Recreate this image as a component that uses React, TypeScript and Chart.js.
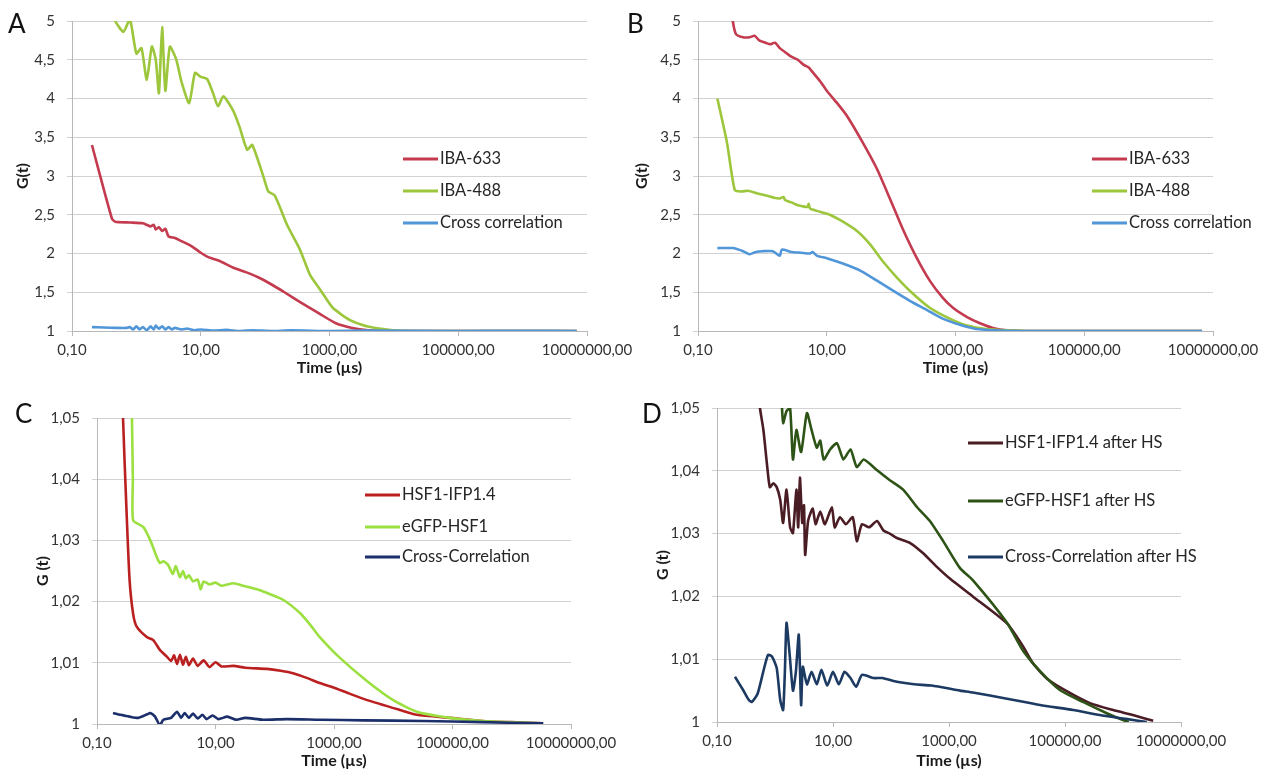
import React, { useEffect, useRef } from "react";
import { Chart, registerables } from "chart.js";

Chart.register(...registerables);

type Pt = [number, number]; // [time in µs, G(t)]

// ---------- tick values ----------
const X_TICKS = [0.1, 10, 1000, 100000, 10000000];
const Y_TICKS_AB = [1, 1.5, 2, 2.5, 3, 3.5, 4, 4.5, 5];
const Y_TICKS_CD = [1, 1.01, 1.02, 1.03, 1.04, 1.05];

// ---------- Panel A ----------
const A_IBA633: Pt[] = [[0.204,3.4],[0.417,2.45],[0.468,2.41],[0.794,2.4],[1.26,2.39],[1.45,2.37],[1.66,2.35],[1.86,2.37],[2.0,2.31],[2.24,2.34],[2.51,2.29],[2.82,2.32],[3.16,2.22],[3.98,2.2],[5.01,2.16],[6.31,2.12],[7.94,2.07],[10,2.01],[12.6,1.96],[15.8,1.93],[20,1.9],[31.6,1.82],[50.1,1.76],[79.4,1.69],[126,1.6],[200,1.5],[355,1.37],[708,1.22],[1259,1.1],[2239,1.04],[3981,1.01],[7943,1.0],[6.92e6,1.0]];
const A_IBA488: Pt[] = [[0.38,5.2],[0.468,5.0],[0.631,4.86],[0.794,5.02],[1,4.58],[1.2,4.65],[1.45,4.24],[1.74,4.67],[2.0,4.5],[2.24,4.07],[2.51,4.92],[2.82,4.1],[3.31,4.67],[4.17,4.5],[5.01,4.22],[6.61,3.94],[8.13,4.33],[10,4.28],[12.6,4.25],[15.5,4.07],[18.6,3.9],[22.4,4.03],[31.6,3.85],[39.8,3.64],[52.5,3.34],[63.1,3.4],[93.3,3.0],[112,2.8],[141,2.75],[219,2.37],[347,2.05],[501,1.72],[708,1.54],[1122,1.3],[2089,1.14],[3802,1.06],[9550,1.01],[25120,1.0],[6.92e6,1.0]];
const A_CROSS: Pt[] = [[0.204,1.05],[0.316,1.045],[0.501,1.04],[0.708,1.04],[0.794,1.05],[0.891,1.02],[1,1.06],[1.12,1.02],[1.26,1.05],[1.45,1.01],[1.66,1.06],[1.86,1.02],[2.0,1.07],[2.24,1.03],[2.51,1.06],[2.82,1.02],[3.16,1.05],[3.55,1.02],[3.98,1.04],[5.01,1.02],[6.31,1.03],[7.94,1.01],[10,1.02],[15.8,1.005],[25.1,1.015],[39.8,1.0],[63.1,1.01],[126,1.0],[251,1.008],[1000,1.0],[3981,1.005],[100000,1.0],[1e6,1.003],[6.92e6,1.0]];

// ---------- Panel B ----------
const B_IBA633: Pt[] = [[0.316,5.3],[0.347,5.0],[0.389,4.83],[0.501,4.79],[0.631,4.79],[0.759,4.81],[0.891,4.75],[1.12,4.72],[1.32,4.7],[1.58,4.72],[1.86,4.65],[2.24,4.6],[2.69,4.55],[3.16,4.52],[3.55,4.5],[4.47,4.43],[5.25,4.4],[6.17,4.33],[7.94,4.22],[10,4.1],[14.5,3.94],[20.4,3.78],[36.3,3.43],[60.3,3.09],[95.5,2.71],[151,2.32],[251,1.94],[398,1.65],[631,1.43],[912,1.3],[1514,1.18],[2399,1.1],[3802,1.04],[6310,1.01],[15850,1.0],[6.76e6,1.0]];
const B_IBA488: Pt[] = [[0.2,4.0],[0.282,3.43],[0.372,2.82],[0.468,2.8],[0.603,2.81],[0.794,2.78],[1,2.76],[1.26,2.74],[1.51,2.72],[1.86,2.71],[2.14,2.73],[2.24,2.69],[2.82,2.66],[3.39,2.63],[4.17,2.61],[5.01,2.6],[5.25,2.64],[5.5,2.58],[7.08,2.55],[11.2,2.5],[17.8,2.41],[29.5,2.29],[46.8,2.12],[74.1,1.9],[123,1.69],[219,1.48],[398,1.3],[813,1.16],[1514,1.07],[2818,1.03],[6310,1.01],[15850,1.0],[6.76e6,1.0]];
const B_CROSS: Pt[] = [[0.2,2.07],[0.347,2.07],[0.501,2.03],[0.631,1.99],[0.794,2.02],[1,2.03],[1.45,2.03],[1.86,1.97],[2.0,2.05],[2.82,2.02],[3.98,2.01],[5.5,2.0],[6.03,2.02],[7.08,1.97],[10,1.94],[17.8,1.87],[33.1,1.78],[60.3,1.65],[107,1.52],[195,1.39],[363,1.27],[631,1.16],[1175,1.08],[1995,1.03],[3981,1.01],[10000,1.0],[6.76e6,1.0]];

// ---------- Panel C ----------
const C_HSF1: Pt[] = [[0.263,1.06],[0.275,1.05],[0.316,1.0345],[0.355,1.0235],[0.407,1.018],[0.468,1.0159],[0.692,1.0142],[0.891,1.0137],[1.15,1.0121],[1.51,1.011],[1.78,1.0103],[2.0,1.0112],[2.24,1.0098],[2.51,1.0113],[2.82,1.0097],[3.16,1.011],[3.55,1.0096],[4.17,1.0107],[5.01,1.0095],[6.31,1.0104],[7.94,1.0093],[10,1.0101],[12.6,1.0094],[20,1.0095],[31.6,1.0092],[74.1,1.009],[126,1.0087],[204,1.0083],[355,1.0075],[575,1.0067],[955,1.006],[1778,1.005],[3631,1.0039],[12880,1.0023],[25120,1.0015],[91200,1.001],[323600,1.0005],[1e6,1.0003],[3.39e6,1.0001]];
const C_EGFP: Pt[] = [[0.372,1.06],[0.389,1.05],[0.403,1.04],[0.407,1.0333],[0.603,1.0322],[0.794,1.03],[1,1.0275],[1.15,1.0263],[1.32,1.0266],[1.58,1.026],[1.91,1.0245],[2.14,1.0258],[2.51,1.024],[2.82,1.025],[3.16,1.0238],[3.55,1.0243],[4.17,1.0233],[5.01,1.0236],[5.62,1.022],[6.31,1.0233],[7.94,1.0228],[10,1.0231],[12.6,1.0226],[20,1.023],[31.6,1.0225],[50.1,1.022],[74.1,1.0214],[138,1.0203],[269,1.0181],[398,1.0162],[575,1.0142],[1259,1.0108],[3631,1.007],[10000,1.0039],[25120,1.002],[91200,1.001],[323600,1.0005],[3.39e6,1.0001]];
const C_CROSS: Pt[] = [[0.186,1.0018],[0.251,1.0015],[0.355,1.0012],[0.501,1.001],[0.708,1.0016],[0.794,1.0018],[0.955,1.0012],[1.15,0.9998],[1.32,1.0007],[1.78,1.001],[2.24,1.002],[2.63,1.001],[3.02,1.0018],[3.55,1.001],[4.17,1.0017],[5.01,1.0009],[6.03,1.0015],[7.08,1.0008],[8.91,1.0014],[11.2,1.0008],[15.8,1.0012],[22.4,1.0007],[31.6,1.001],[63.1,1.0007],[158,1.0008],[575,1.0007],[3162,1.0006],[31620,1.0005],[316200,1.0003],[3.39e6,1.0001]];

// ---------- Panel D ----------
const D_HSF1: Pt[] = [[0.501,1.054],[0.55,1.05],[0.631,1.0465],[0.724,1.0412],[0.813,1.0374],[0.933,1.038],[1.07,1.0374],[1.23,1.0354],[1.38,1.0317],[1.58,1.037],[1.82,1.031],[2.04,1.0301],[2.34,1.037],[2.51,1.031],[2.69,1.0389],[2.95,1.0317],[3.16,1.0345],[3.31,1.0266],[3.72,1.032],[4.47,1.034],[5.01,1.0315],[6.03,1.0335],[7.24,1.0315],[9.55,1.0342],[10.7,1.031],[13.2,1.0326],[16.6,1.0315],[21.9,1.0326],[25.7,1.0288],[31.6,1.0315],[41.7,1.031],[57.5,1.032],[74.1,1.0305],[95.5,1.03],[126,1.0293],[214,1.0285],[355,1.0269],[617,1.0247],[1047,1.0228],[2570,1.02],[10000,1.0157],[19050,1.012],[28180,1.0093],[48980,1.0069],[107200,1.0049],[269200,1.003],[676100,1.0019],[1.48e6,1.0011],[3.31e6,1.0002]];
const D_EGFP: Pt[] = [[1.2,1.054],[1.32,1.05],[1.38,1.0476],[1.58,1.0495],[1.82,1.05],[2.04,1.0418],[2.34,1.0465],[2.82,1.043],[3.55,1.0492],[4.27,1.0465],[5.25,1.0437],[6.03,1.0448],[6.92,1.0418],[8.91,1.0434],[11.7,1.0444],[15.1,1.0418],[20,1.0434],[25.7,1.0406],[33.9,1.0418],[57.5,1.0401],[95.5,1.0385],[162,1.037],[282,1.0342],[468,1.032],[794,1.0288],[1549,1.0245],[2570,1.0226],[10000,1.0158],[19050,1.0113],[37150,1.0081],[81280,1.0051],[204200,1.0032],[524800,1.0014],[1e6,1.0003],[1.26e6,1.0]];
const D_CROSS: Pt[] = [[0.204,1.0072],[0.282,1.0051],[0.355,1.0035],[0.398,1.0032],[0.501,1.0045],[0.631,1.0081],[0.759,1.0107],[0.891,1.0104],[1.07,1.0086],[1.23,1.0035],[1.38,1.0019],[1.48,1.008],[1.58,1.0158],[1.78,1.011],[2.04,1.005],[2.29,1.008],[2.57,1.0139],[2.82,1.0027],[3.02,1.0088],[3.55,1.006],[4.27,1.008],[5.25,1.006],[6.31,1.0083],[7.94,1.0058],[10,1.008],[12.6,1.006],[15.8,1.008],[20,1.007],[25.1,1.0056],[31.6,1.0075],[50.1,1.007],[70.8,1.007],[126,1.0064],[251,1.006],[501,1.0058],[1549,1.005],[2570,1.0047],[10000,1.0037],[37150,1.0027],[138000,1.0019],[398100,1.0011],[1.12e6,1.0005],[2.57e6,1.0]];

// ---------- styling / layout ----------
const FONT = "Lato, 'Open Sans', sans-serif";

interface Series { label: string; color: string; data: Pt[] }
interface Panel {
  letter: string;
  left: number; top: number; width: number; height: number;
  area: { left: number; top: number; right: number; bottom: number };
  yMin: number; yMax: number; yTicks: number[];
  yTitle: string; yTitlePad: number; xTitlePad: number;
  letterX: number; letterY: number;
  legendX: number; legendYs: number[];
  series: Series[];
}

const PANELS: Panel[] = [
  {
    letter: "A", left: 0, top: 0, width: 640, height: 380,
    area: { left: 72, top: 17, right: 587, bottom: 331 },
    yMin: 1, yMax: 5, yTicks: Y_TICKS_AB, yTitle: "G(t)", yTitlePad: 13, xTitlePad: 3,
    letterX: 8, letterY: 25, legendX: 403, legendYs: [159, 191, 223],
    series: [
      { label: "IBA-633", color: "#c43b4f", data: A_IBA633 },
      { label: "IBA-488", color: "#9cc63b", data: A_IBA488 },
      { label: "Cross correlation", color: "#5096d8", data: A_CROSS },
    ],
  },
  {
    letter: "B", left: 620, top: 0, width: 652, height: 380,
    area: { left: 78, top: 17, right: 593, bottom: 331 },
    yMin: 1, yMax: 5, yTicks: Y_TICKS_AB, yTitle: "G(t)", yTitlePad: 12, xTitlePad: 3,
    letterX: 7, letterY: 25, legendX: 472, legendYs: [159, 191, 223],
    series: [
      { label: "IBA-633", color: "#c43b4f", data: B_IBA633 },
      { label: "IBA-488", color: "#9cc63b", data: B_IBA488 },
      { label: "Cross correlation", color: "#5096d8", data: B_CROSS },
    ],
  },
  {
    letter: "C", left: 0, top: 380, width: 640, height: 402,
    area: { left: 97, top: 38, right: 571, bottom: 344 },
    yMin: 1, yMax: 1.05, yTicks: Y_TICKS_CD, yTitle: "G (t)", yTitlePad: 33, xTitlePad: 12,
    letterX: 15, letterY: 35, legendX: 365, legendYs: [115, 147, 177],
    series: [
      { label: "HSF1-IFP1.4", color: "#bb2020", data: C_HSF1 },
      { label: "eGFP-HSF1", color: "#9be040", data: C_EGFP },
      { label: "Cross-Correlation", color: "#1b2f6b", data: C_CROSS },
    ],
  },
  {
    letter: "D", left: 636, top: 380, width: 636, height: 402,
    area: { left: 81, top: 28, right: 545, bottom: 342 },
    yMin: 1, yMax: 1.05, yTicks: Y_TICKS_CD, yTitle: "G (t)", yTitlePad: 17, xTitlePad: 12,
    letterX: 6, letterY: 35, legendX: 332, legendYs: [63, 121, 177],
    series: [
      { label: "HSF1-IFP1.4 after HS", color: "#4a1c24", data: D_HSF1 },
      { label: "eGFP-HSF1 after HS", color: "#2d5316", data: D_EGFP },
      { label: "Cross-Correlation after HS", color: "#1c3a62", data: D_CROSS },
    ],
  },
];

const fmtX = (v: number) => v.toFixed(2).replace(".", ",");
const fmtY = (v: number) => String(Math.round(v * 100) / 100).replace(".", ",");

function overlay(p: Panel) {
  return {
    id: "overlay" + p.letter,
    afterDraw(chart: any) {
      const ctx: CanvasRenderingContext2D = chart.ctx;
      ctx.save();
      ctx.textAlign = "left";
      ctx.textBaseline = "middle";
      ctx.fillStyle = "#111";
      ctx.font = `26px ${FONT}`;
      ctx.fillText(p.letter, p.letterX, p.letterY);
      ctx.font = `16.5px ${FONT}`;
      p.series.forEach((s, i) => {
        const y = p.legendYs[i];
        ctx.strokeStyle = s.color;
        ctx.lineWidth = 3;
        ctx.beginPath();
        ctx.moveTo(p.legendX, y);
        ctx.lineTo(p.legendX + 35, y);
        ctx.stroke();
        ctx.fillStyle = "#262626";
        ctx.fillText(s.label, p.legendX + 37, y);
      });
      ctx.restore();
    },
  };
}

function buildConfig(p: Panel): any {
  const tickFont = { family: FONT, size: 15 };
  const titleFont = { family: FONT, size: 16, weight: "bold" as const };
  return {
    type: "line",
    data: {
      datasets: p.series.map((s, i) => ({
        label: s.label,
        data: s.data.map(([x, y]) => ({ x, y })),
        borderColor: s.color,
        backgroundColor: s.color,
        borderWidth: 2.6,
        pointRadius: 0,
        tension: 0.2,
        fill: false,
        order: -i,
      })),
    },
    options: {
      animation: false,
      responsive: false,
      maintainAspectRatio: false,
      events: [],
      layout: { padding: { left: 0, top: p.area.top, right: p.width - p.area.right, bottom: 0 } },
      plugins: { legend: { display: false }, tooltip: { enabled: false } },
      scales: {
        x: {
          type: "logarithmic",
          min: 0.1,
          max: 1e7,
          afterBuildTicks: (s: any) => { s.ticks = X_TICKS.map((v) => ({ value: v })); },
          afterFit: (s: any) => { s.height = p.height - p.area.bottom; },
          ticks: { callback: (v: any) => fmtX(Number(v)), maxRotation: 0, autoSkip: false, color: "#333", font: tickFont, padding: 5 },
          grid: { drawOnChartArea: false, drawTicks: true, tickLength: 5, color: "#b8b8b8" },
          border: { display: true, color: "#b8b8b8", width: 1 },
          title: { display: true, text: "Time (µs)", color: "#1a1a1a", font: titleFont, padding: { top: 0, bottom: p.xTitlePad } },
        },
        y: {
          type: "linear",
          min: p.yMin,
          max: p.yMax,
          afterBuildTicks: (s: any) => { s.ticks = p.yTicks.map((v) => ({ value: v })); },
          afterFit: (s: any) => { s.width = p.area.left; },
          ticks: { callback: (v: any) => fmtY(Number(v)), color: "#333", font: tickFont, padding: 12 },
          grid: { color: "#d2d2d2", drawTicks: true, tickLength: 5, lineWidth: 1 },
          border: { display: true, color: "#b8b8b8", width: 1 },
          title: { display: true, text: p.yTitle, color: "#1a1a1a", font: titleFont, padding: { top: p.yTitlePad, bottom: 0 } },
        },
      },
    },
    plugins: [overlay(p)],
  };
}

export default function App() {
  const refs = useRef<(HTMLCanvasElement | null)[]>([]);
  useEffect(() => {
    const charts = PANELS.map((p, i) => new Chart(refs.current[i] as HTMLCanvasElement, buildConfig(p)));
    return () => charts.forEach((c) => c.destroy());
  }, []);
  return (
    <div style={{ position: "absolute", left: 0, top: 0, width: 1272, height: 782, background: "#fff", overflow: "hidden" }}>
      {PANELS.map((p, i) => (
        <canvas
          key={p.letter}
          ref={(el) => { refs.current[i] = el; }}
          width={p.width}
          height={p.height}
          style={{ position: "absolute", left: p.left, top: p.top, width: p.width, height: p.height }}
        />
      ))}
    </div>
  );
}
